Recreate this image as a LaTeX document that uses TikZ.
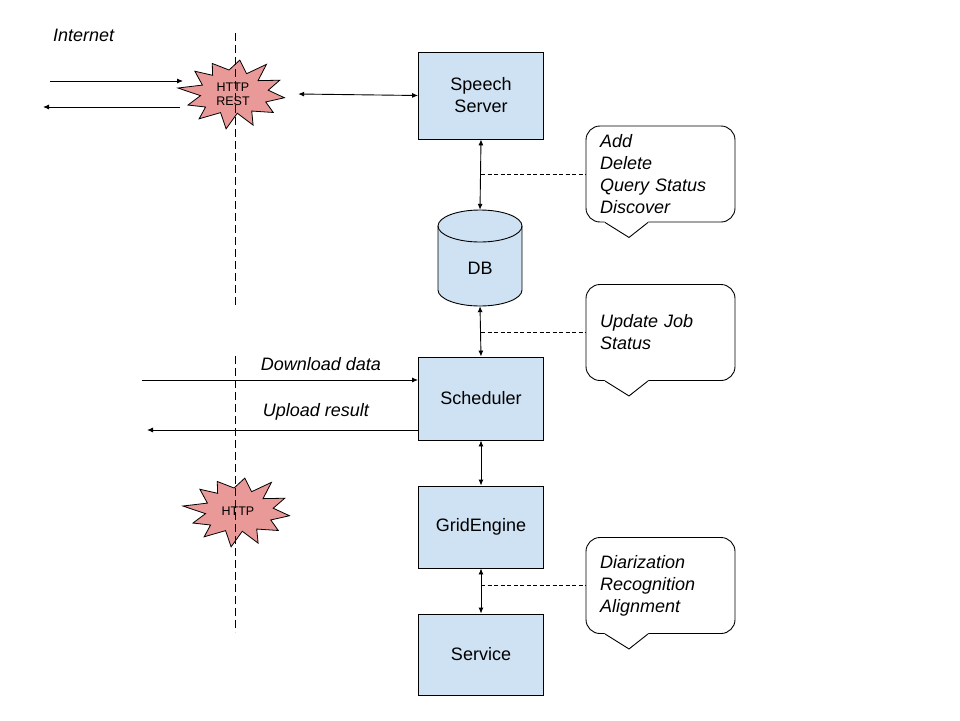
\documentclass[tikz,border=0pt]{standalone}
\usepackage{fontspec}
\setmainfont{Liberation Sans}
\usetikzlibrary{arrows.meta,calc}
\definecolor{boxblue}{HTML}{CFE2F3}
\definecolor{burst}{HTML}{EA9999}
\newcommand\calltail[1]{%
  \fill[white] ($(#1.south)+(-56,-1.5)$) -- ($(#1.south)+(-12,-1.5)$) -- ($(#1.south)+(-12.5,0)$) -- ($(#1.south)+(-31.5,15)$) -- ($(#1.south)+(-55.5,0)$) -- cycle;
  \draw[line width=0.9pt] ($(#1.south)+(-55.5,0)$) -- ($(#1.south)+(-31.5,15)$) -- ($(#1.south)+(-12.5,0)$);}
\newcommand\burstshape[2]{%
  \draw[line width=0.8pt, fill=burst] plot[samples at={0,...,23}, variable=\t]
   ({#1+52*cos(\t*15+8)*(1-0.36*mod(\t,2))*(1+0.07*sin(\t*97))},
    {#2+34*sin(\t*15+8)*(1-0.36*mod(\t,2))*(1+0.07*sin(\t*131))}) -- cycle;}
\begin{document}
\begin{tikzpicture}[x=1pt,y=-1pt,
  every node/.style={font=\fontsize{18}{22}\selectfont},
  box/.style={draw=black, fill=boxblue, line width=0.9pt, minimum width=125pt, align=center, inner sep=0pt},
  callout/.style={draw=black, fill=white, line width=0.9pt, rounded corners=14pt, minimum width=149pt, minimum height=96pt, text width=121pt, inner xsep=14pt, inner ysep=0pt, align=left, font=\fontsize{18}{22}\selectfont\itshape},
  lbl/.style={font=\fontsize{18}{22}\selectfont\itshape, inner sep=0pt},
  bursttext/.style={font=\fontsize{12.5}{14}\selectfont, align=center, inner sep=0pt},
  arr/.style={line width=0.9pt, -{Latex[length=6pt,width=5pt]}},
  darr/.style={line width=0.9pt, {Latex[length=6pt,width=5pt]}-{Latex[length=6pt,width=5pt]}},
  sepline/.style={line width=0.9pt, dash pattern=on 8pt off 4pt},
  note/.style={line width=0.8pt, dash pattern=on 4pt off 2.5pt}]
\useasboundingbox (0,0) rectangle (960,720);

% starbursts
\burstshape{233}{93}
\burstshape{238}{511}
\node[bursttext, minimum width=130pt, minimum height=66pt] (s1) at (233,94) {HTTP\\REST};
\node[bursttext] (s2) at (238,511) {HTTP};

% separator lines
\coordinate (d1t) at (235,33);
\coordinate (d1b) at (235,308);
\coordinate (d2t) at (235,356);
\coordinate (d2b) at (235,632);
\draw[sepline] (d1t) -- (d1b);
\draw[sepline] (d2t) -- (d2b);

\node[lbl, anchor=west] (inet) at (53,35) {Internet};

% boxes
\node[box, minimum height=87pt] (sp) at (481,95.5) {Speech\\Server};
\node[box, minimum height=83pt] (sch) at (481,398.5) {Scheduler};
\node[box, minimum height=82pt] (ge) at (481,527) {GridEngine};
\node[box, minimum height=81pt] (sv) at (481,654.5) {Service};

% DB cylinder
\node[minimum width=84pt, minimum height=96pt, inner sep=0pt] (db) at (480,258) {};
\draw[line width=0.9pt, fill=boxblue] (438,226) -- (438,290) arc[start angle=180, end angle=0, x radius=42, y radius=16] -- (522,226) arc[start angle=0, end angle=-180, x radius=42, y radius=16] -- cycle;
\draw[line width=0.9pt] (438,226) arc[start angle=180, end angle=0, x radius=42, y radius=16];
\node[inner sep=0pt] (dbl) at (480,268) {DB};

% callouts
\node[callout] (c1) at (660.5,174) {Add\\Delete\\Query Status\\Discover};
\calltail{c1}
\node[callout] (c2) at (660.5,332.5) {Update Job\\Status};
\calltail{c2}
\node[callout] (c3) at (660.5,585.5) {Diarization\\Recognition\\Alignment};
\calltail{c3}

% internet arrows
\coordinate (a1s) at (50,81);
\coordinate (a1e) at (183,81);
\coordinate (a2s) at (180,107);
\coordinate (a2e) at (43,107);
\draw[arr] (a1s) -- (a1e);
\draw[arr] (a2s) -- (a2e);
\draw[darr] (s1.east) -- (sp.west);

% vertical connectors
\draw[darr] (sp.south) -- (db.north);
\draw[darr] (db.south) -- (sch.north);
\draw[darr] (sch.south) -- (ge.north);
\draw[darr] (ge.south) -- (sv.north);

% dashed notes
\draw[note] (c1.west -| sp.south) -- (c1.west);
\draw[note] (c2.west -| sp.south) -- (c2.west);
\draw[note] (c3.west -| sp.south) -- (c3.west);

% download / upload
\coordinate (dl) at (142,380);
\coordinate (ul) at (147,430);
\draw[arr] (dl) -- (dl -| sch.west);
\draw[arr] (ul -| sch.west) -- (ul);
\node[lbl] (dlt) at (321,364) {Download data};
\node[lbl] (ult) at (316,412) {Upload result};
\end{tikzpicture}
\end{document}
